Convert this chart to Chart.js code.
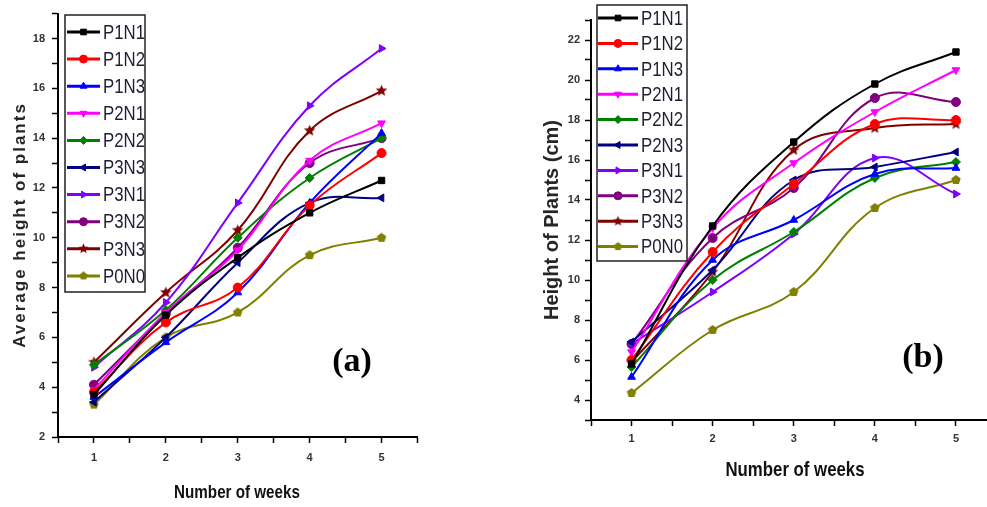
<!DOCTYPE html>
<html>
<head>
<meta charset="utf-8">
<script src="https://cdn.jsdelivr.net/npm/chart.js@4/dist/chart.umd.min.js"></script>
<style>
  html, body { margin: 0; padding: 0; background: #fff; overflow: hidden; width: 987px; height: 507px; }
  .panel { position: absolute; top: 0; }
  #panelA { left: 0; width: 430px; height: 507px; }
  #panelB { left: 500px; width: 510px; height: 507px; }
</style>
</head>
<body>
<div id="panelA" class="panel"><canvas id="chartA" width="430" height="507"></canvas></div>
<div id="panelB" class="panel"><canvas id="chartB" width="510" height="507"></canvas></div>
<script>
// ---- data ----
const weeks = [1, 2, 3, 4, 5];

// (a) average height of plants per treatment
const labelsA = ['P1N1', 'P1N2', 'P1N3', 'P2N1', 'P2N2', 'P3N3', 'P3N1', 'P3N2', 'P3N3', 'P0N0'];
const avgP1N1 = [3.7, 6.9, 9.2, 11.0, 12.3];
const avgP1N2 = [3.8, 6.6, 8.0, 11.3, 13.4];
const avgP1N3 = [3.6, 5.8, 7.8, 11.4, 14.2];
const avgP2N1 = [3.9, 7.0, 9.5, 13.1, 14.6];
const avgP2N2 = [4.9, 7.1, 10.0, 12.4, 14.0];
const avgP3N3navy = [3.4, 6.0, 9.0, 11.4, 11.6];
const avgP3N1 = [4.8, 7.4, 11.4, 15.3, 17.6];
const avgP3N2 = [4.1, 6.95, 9.6, 13.0, 14.0];
const avgP3N3 = [5.0, 7.8, 10.3, 14.3, 15.9];
const avgP0N0 = [3.3, 6.0, 7.0, 9.3, 10.0];

// (b) height of plants (cm) per treatment
const labelsB = ['P1N1', 'P1N2', 'P1N3', 'P2N1', 'P2N2', 'P2N3', 'P3N1', 'P3N2', 'P3N3', 'P0N0'];
const cmP1N1 = [5.8, 12.7, 16.9, 19.8, 21.4];
const cmP1N2 = [6.0, 11.4, 14.8, 17.8, 18.0];
const cmP1N3 = [5.15, 11.0, 13.0, 15.3, 15.6];
const cmP2N1 = [6.4, 12.6, 15.85, 18.4, 20.5];
const cmP2N2 = [5.65, 10.0, 12.4, 15.1, 15.9];
const cmP2N3 = [6.9, 10.5, 15.0, 15.65, 16.4];
const cmP3N1 = [6.8, 9.4, 12.3, 16.1, 14.3];
const cmP3N2 = [6.8, 12.1, 14.6, 19.1, 18.9];
const cmP3N3 = [5.9, 10.4, 16.5, 17.6, 17.8];
const cmP0N0 = [4.35, 7.5, 9.4, 13.6, 15.0];

const seriesA = [avgP1N1, avgP1N2, avgP1N3, avgP2N1, avgP2N2, avgP3N3navy, avgP3N1, avgP3N2, avgP3N3, avgP0N0];
const seriesB = [cmP1N1, cmP1N2, cmP1N3, cmP2N1, cmP2N2, cmP2N3, cmP3N1, cmP3N2, cmP3N3, cmP0N0];

// ---- marker shapes ----
function polyCanvas(color, points, r) {
  const size = Math.ceil(r * 2 + 2);
  const c = document.createElement('canvas');
  c.width = c.height = size;
  const g = c.getContext('2d');
  g.fillStyle = color;
  g.beginPath();
  points.forEach(([px, py], i) => {
    const x = size / 2 + px * r, y = size / 2 + py * r;
    i ? g.lineTo(x, y) : g.moveTo(x, y);
  });
  g.closePath();
  g.fill();
  return c;
}
function starPts() {
  const p = [];
  for (let i = 0; i < 10; i++) {
    const a = -Math.PI / 2 + i * Math.PI / 5, k = i % 2 ? 0.45 : 1;
    p.push([Math.cos(a) * k, Math.sin(a) * k]);
  }
  return p;
}
function pentPts() {
  const p = [];
  for (let i = 0; i < 5; i++) {
    const a = -Math.PI / 2 + i * 2 * Math.PI / 5;
    p.push([Math.cos(a), Math.sin(a)]);
  }
  return p;
}

// series style: colour, point style, rotation
const styles = [
  { color: '#000000', style: 'rect', rot: 0 },
  { color: '#ff0000', style: 'circle', rot: 0 },
  { color: '#0000ff', style: 'triangle', rot: 0 },
  { color: '#ff00ff', style: 'triangle', rot: 180 },
  { color: '#008000', style: 'rectRot', rot: 0 },
  { color: '#000080', style: 'triangle', rot: -90 },
  { color: '#8000ff', style: 'triangle', rot: 90 },
  { color: '#800080', style: 'circle', rot: 0 },
  { color: '#800000', style: 'star', rot: 0 },
  { color: '#808000', style: 'pent', rot: 0 }
];

function markerStyle(s, r) {
  if (s.style === 'star') return polyCanvas(s.color, starPts(), r * 1.35);
  if (s.style === 'pent') return polyCanvas(s.color, pentPts(), r * 1.1);
  return s.style;
}

function buildDatasets(labels, series, r) {
  return series.map((vals, i) => {
    const s = styles[i];
    return {
      label: labels[i],
      data: weeks.map((w, j) => ({ x: w, y: vals[j] })),
      borderColor: s.color,
      backgroundColor: s.color,
      pointBackgroundColor: s.color,
      pointBorderColor: s.color,
      borderWidth: 2,
      pointRadius: r,
      pointBorderWidth: 1,
      pointStyle: markerStyle(s, r),
      legendPointStyle: markerStyle(s, 4),
      pointRotation: s.rot,
      tension: 0.4,
      fill: false
    };
  });
}

// ---- decorations: legend box, axis titles, panel tag ----
const decor = {
  id: 'decor',
  afterDatasetsDraw(chart, args, o) {
    const ctx = chart.ctx;
    ctx.save();
    // legend
    const L = o.legend;
    ctx.fillStyle = '#fff';
    ctx.fillRect(L.x, L.y, L.w, L.h);
    ctx.strokeStyle = '#222';
    ctx.lineWidth = 1.5;
    ctx.strokeRect(L.x, L.y, L.w, L.h);
    chart.data.datasets.forEach((ds, i) => {
      const y = L.first + i * L.gap;
      ctx.strokeStyle = ds.borderColor;
      ctx.lineWidth = 3;
      ctx.beginPath();
      ctx.moveTo(L.lx0, y);
      ctx.lineTo(L.lx1, y);
      ctx.stroke();
      ctx.fillStyle = ds.borderColor;
      ctx.lineWidth = 1;
      Chart.helpers.drawPoint(ctx, { pointStyle: ds.legendPointStyle, rotation: ds.pointRotation, radius: L.r, borderWidth: 1 }, (L.lx0 + L.lx1) / 2, y);
      ctx.save();
      ctx.translate(L.tx, y);
      ctx.scale(0.8, 1);
      ctx.fillStyle = '#1e1e34';
      ctx.font = L.fs + "px 'Liberation Sans', Arial, sans-serif";
      ctx.textBaseline = 'middle';
      ctx.textAlign = 'left';
      ctx.fillText(ds.label, 0, 1);
      ctx.restore();
    });
    // y title
    const Y = o.yTitle;
    ctx.save();
    ctx.translate(Y.x, Y.y);
    ctx.rotate(-Math.PI / 2);
    ctx.fillStyle = '#262626';
    ctx.font = Y.font;
    if ('letterSpacing' in ctx) ctx.letterSpacing = Y.ls + 'px';
    ctx.textAlign = 'center';
    ctx.textBaseline = 'middle';
    ctx.fillText(Y.text, 0, 0);
    ctx.restore();
    // x title
    const X = o.xTitle;
    ctx.save();
    ctx.translate(X.x, X.y);
    ctx.scale(0.8, 1);
    ctx.fillStyle = '#111';
    ctx.font = X.font;
    ctx.textAlign = 'center';
    ctx.textBaseline = 'middle';
    ctx.fillText(X.text, 0, 0);
    ctx.restore();
    // panel tag
    const T = o.tag;
    ctx.fillStyle = '#000';
    ctx.font = "bold 34px 'Liberation Serif', 'Times New Roman', serif";
    ctx.textAlign = 'center';
    ctx.textBaseline = 'middle';
    ctx.fillText(T.text, T.x, T.y);
    ctx.restore();
  }
};

const tickFont = { family: "'Liberation Sans Narrow', 'Arial Narrow', 'Liberation Sans', Arial, sans-serif", size: 11, weight: 'bold' };

function axes(yMin, yMax, yWidth, xHeight, xPad, yPad) {
  return {
    x: {
      type: 'linear', min: 0.5, max: 5.5,
      ticks: {
        stepSize: 0.5, autoSkip: false, maxRotation: 0, padding: xPad,
        color: '#333', font: tickFont,
        callback: v => Number.isInteger(v) ? String(v) : ''
      },
      grid: { drawOnChartArea: false, drawTicks: true, tickLength: 6, tickColor: '#000', tickWidth: 1.5 },
      border: { display: true, color: '#000', width: 2 },
      afterFit: s => { s.height = xHeight; }
    },
    y: {
      type: 'linear', min: yMin, max: yMax,
      ticks: {
        stepSize: 1, autoSkip: false, padding: yPad,
        color: '#333', font: tickFont,
        callback: v => v % 2 === 0 ? String(v) : ''
      },
      grid: { drawOnChartArea: false, drawTicks: true, tickLength: 6, tickColor: '#000', tickWidth: 1.5 },
      border: { display: true, color: '#000', width: 2 },
      afterFit: s => { s.width = yWidth; }
    }
  };
}

new Chart(document.getElementById('chartA'), {
  type: 'line',
  data: { datasets: buildDatasets(labelsA, seriesA, 4.5) },
  plugins: [decor],
  options: {
    responsive: false, animation: false, devicePixelRatio: 1,
    layout: { padding: { top: 12, right: 12.5, bottom: 0, left: 0 } },
    scales: axes(2, 19, 58, 70, 8, 7),
    plugins: {
      legend: { display: false }, tooltip: { enabled: false },
      decor: {
        legend: { x: 65, y: 15, w: 80, h: 277, first: 32, gap: 27.1, lx0: 67, lx1: 100, r: 4, tx: 103, fs: 21 },
        yTitle: { text: 'Average height of plants', x: 20, y: 225, font: "bold 17px 'Liberation Sans', Arial, sans-serif", ls: 2 },
        xTitle: { text: 'Number of weeks', x: 237, y: 493, font: "bold 19px 'Liberation Sans', Arial, sans-serif" },
        tag: { text: '(a)', x: 352, y: 362 }
      }
    }
  }
});

new Chart(document.getElementById('chartB'), {
  type: 'line',
  data: { datasets: buildDatasets(labelsB, seriesB, 4.5) },
  plugins: [decor],
  options: {
    responsive: false, animation: false, devicePixelRatio: 1,
    layout: { padding: { top: 20, right: 13.5, bottom: 0, left: 0 } },
    scales: axes(3, 23, 91, 87, 6, 5),
    plugins: {
      legend: { display: false }, tooltip: { enabled: false },
      decor: {
        legend: { x: 97, y: 5, w: 90, h: 256, first: 18, gap: 25.4, lx0: 98, lx1: 138, r: 4, tx: 141, fs: 21 },
        yTitle: { text: 'Height of Plants (cm)', x: 52, y: 220, font: "bold 20px 'Liberation Sans', Arial, sans-serif", ls: 0 },
        xTitle: { text: 'Number of weeks', x: 295, y: 470, font: "bold 21px 'Liberation Sans', Arial, sans-serif" },
        tag: { text: '(b)', x: 423, y: 358 }
      }
    }
  }
});
</script>
</body>
</html>
